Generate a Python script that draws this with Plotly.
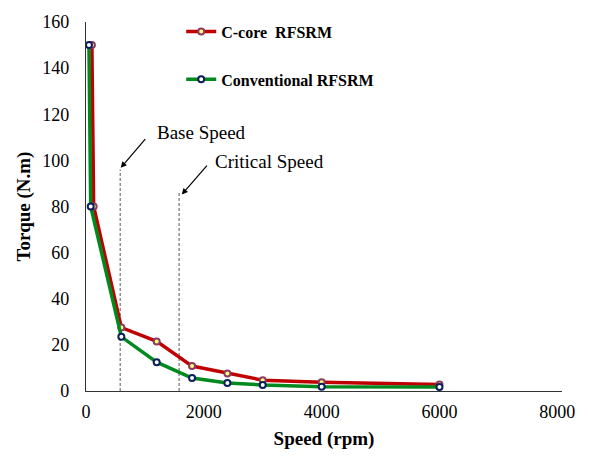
import plotly.graph_objects as go

speed_ccore = [100, 130, 600, 1200, 1800, 2400, 3000, 4000, 6000]
torque_ccore = [150, 80, 27.5, 21.5, 10.8, 7.6, 4.7, 3.8, 2.8]
speed_conv = [50, 80, 600, 1200, 1800, 2400, 3000, 4000, 6000]
torque_conv = [150, 80, 23.5, 12.5, 5.6, 3.5, 2.6, 1.8, 1.7]

base_speed = 580
base_top = 96
critical_speed = 1580
critical_top = 86

x_ticks = [0, 2000, 4000, 6000, 8000]
y_ticks = [0, 20, 40, 60, 80, 100, 120, 140, 160]

serif = "Liberation Serif, Times New Roman, serif"

fig = go.Figure()
fig.add_trace(go.Scatter(
    x=[base_speed, base_speed], y=[0, base_top], mode="lines",
    line=dict(color="#555555", width=1, dash="3px,2px"), showlegend=False, hoverinfo="skip"))
fig.add_trace(go.Scatter(
    x=[critical_speed, critical_speed], y=[0, critical_top], mode="lines",
    line=dict(color="#555555", width=1, dash="3px,2px"), showlegend=False, hoverinfo="skip"))

fig.add_trace(go.Scatter(
    x=speed_ccore, y=torque_ccore, mode="lines+markers", name="C-core  RFSRM",
    legendgroup="a",
    line=dict(color="#C00000", width=3.5),
    marker=dict(size=6, color="#FFFF80", line=dict(color="#8B3A62", width=2))))
fig.add_trace(go.Scatter(
    x=speed_conv, y=torque_conv, mode="lines+markers", name="Conventional RFSRM",
    legendgroup="b",
    line=dict(color="#008A1E", width=3.5),
    marker=dict(size=6, color="#FFFFFF", line=dict(color="#0A1E5A", width=2))))

annots = [
    dict(x=1172, y=112, text="Base Speed", showarrow=False, xanchor="left", yanchor="middle",
         font=dict(family=serif, size=19, color="#000")),
    dict(x=2158, y=99.5, text="Critical Speed", showarrow=False, xanchor="left", yanchor="middle",
         font=dict(family=serif, size=19, color="#000")),
    dict(x=590, y=96.8, ax=1031, ay=110, axref="x", ayref="y", xref="x", yref="y",
         text=" ", showarrow=True, arrowhead=2, arrowsize=1, arrowwidth=1.2, arrowcolor="#000",
         font=dict(size=1)),
    dict(x=1626, y=85.2, ax=2078, ay=98.5, axref="x", ayref="y", xref="x", yref="y",
         text=" ", showarrow=True, arrowhead=2, arrowsize=1, arrowwidth=1.2, arrowcolor="#000",
         font=dict(size=1)),
]

fig.update_layout(
    width=590, height=457,
    margin=dict(l=86, r=28, t=14, b=65),
    paper_bgcolor="white", plot_bgcolor="white",
    annotations=annots,
    legend=dict(x=0.2, y=1.02, xanchor="left", yanchor="top",
                font=dict(family=serif, size=16, color="#000", weight="bold"),
                tracegroupgap=24, bgcolor="rgba(0,0,0,0)", itemwidth=30),
    xaxis=dict(range=[0, 8080], tickvals=x_ticks, showgrid=False, zeroline=False,
               showline=True, linecolor="#333", linewidth=1.2,
               ticks="outside", ticklen=4, tickcolor="rgba(0,0,0,0)",
               tickfont=dict(family=serif, size=18, color="#000"),
               title=dict(text="<b>Speed (rpm)</b>", font=dict(family=serif, size=19, color="#000"),
                          standoff=10)),
    yaxis=dict(range=[0, 160], tickvals=y_ticks, showgrid=False, zeroline=False,
               showline=True, linecolor="#333", linewidth=1.2,
               ticks="outside", ticklen=12, tickcolor="rgba(0,0,0,0)",
               tickfont=dict(family=serif, size=18, color="#000"),
               title=dict(text="<b>Torque (N.m)</b>", font=dict(family=serif, size=19, color="#000"),
                          standoff=6)),
)

fig.write_html("out.html")
